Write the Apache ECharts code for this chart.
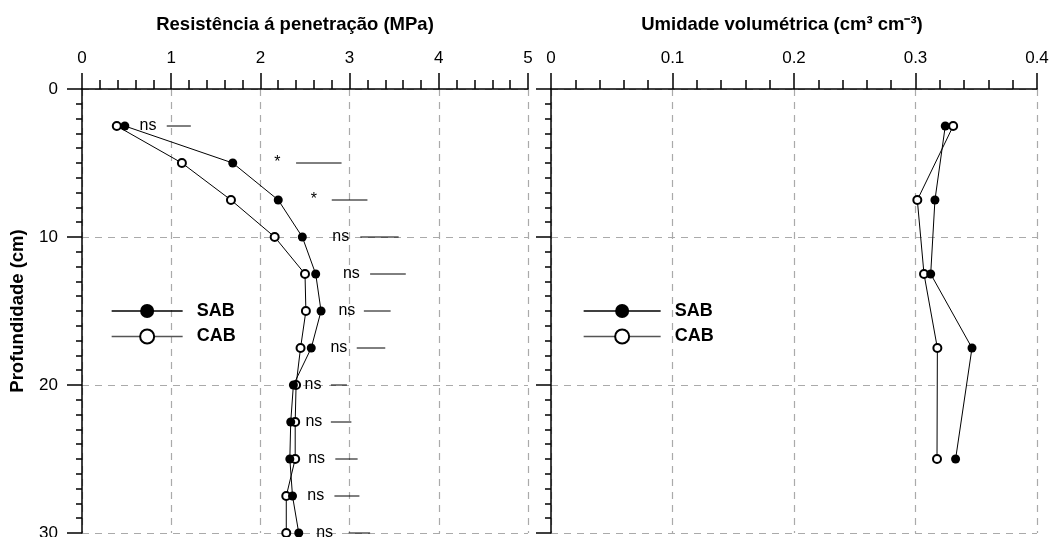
<!DOCTYPE html>
<html>
<head>
<meta charset="utf-8">
<script src="https://cdn.jsdelivr.net/npm/echarts@6/dist/echarts.min.js"></script>
<style>
html,body{margin:0;padding:0;background:#fff;}
#c{width:1057px;height:537px;}
</style>
</head>
<body>
<div id="c"></div>
<script>
// ---- data ----
const depths = [2.5, 5, 7.5, 10, 12.5, 15, 17.5, 20, 22.5, 25, 27.5, 30];
const resistSAB = [0.48, 1.69, 2.20, 2.47, 2.62, 2.68, 2.57, 2.37, 2.34, 2.33, 2.36, 2.43];
const resistCAB = [0.39, 1.12, 1.67, 2.16, 2.50, 2.51, 2.45, 2.40, 2.39, 2.39, 2.29, 2.29];
const sigLabels = ['ns', '*', '*', 'ns', 'ns', 'ns', 'ns', 'ns', 'ns', 'ns', 'ns', 'ns'];
const sigLabelX = [0.74, 2.19, 2.60, 2.90, 3.02, 2.97, 2.88, 2.59, 2.60, 2.63, 2.62, 2.72];
const lsdStart = [0.95, 2.40, 2.80, 3.12, 3.23, 3.16, 3.08, 2.79, 2.79, 2.84, 2.83, 2.99];
const lsdEnd = [1.22, 2.91, 3.20, 3.55, 3.63, 3.46, 3.40, 2.97, 3.02, 3.09, 3.11, 3.23];

const moistDepths = [2.5, 7.5, 12.5, 17.5, 25];
const moistSAB = [0.3245, 0.316, 0.3125, 0.3465, 0.333];
const moistCAB = [0.331, 0.3015, 0.307, 0.318, 0.3177];

const seriesNames = ['SAB', 'CAB'];
const resistTicks = [0, 1, 2, 3, 4, 5];
const moistTicks = [0, 0.1, 0.2, 0.3, 0.4];
const depthTicks = [0, 10, 20, 30];
const titleLeft = 'Resistência á penetração (MPa)';
const titleRight = 'Umidade volumétrica (cm³ cm⁻³)';
const depthTitle = 'Profundidade (cm)';

// ---- chart ----
const FONT = 'Liberation Sans, Arial, Helvetica, sans-serif';
const chart = echarts.init(document.getElementById('c'), null, {renderer: 'canvas'});

function xAxisDef(gridIndex, ticks, name, shiftLeft) {
  const interval = ticks[1] - ticks[0];
  return {
    type: 'value', gridIndex: gridIndex, position: 'top',
    min: ticks[0], max: ticks[ticks.length - 1], interval: interval,
    name: name, nameLocation: 'middle', nameGap: 55,
    nameTextStyle: {fontFamily: FONT, fontSize: 18.5, fontWeight: 'bold', color: '#000',
      padding: [0, shiftLeft * 2, 0, 0]},
    axisLine: {show: true, onZero: false, lineStyle: {color: '#000', width: 1.5}},
    axisTick: {show: true, inside: false, length: 16, lineStyle: {color: '#000', width: 1.5}},
    minorTick: {show: true, splitNumber: 5, length: 9, lineStyle: {color: '#000', width: 1.5}},
    axisLabel: {show: true, margin: 22, fontFamily: FONT, fontSize: 17, color: '#000',
      formatter: function (v) { return String(+v.toFixed(2)); }},
    splitLine: {show: true, lineStyle: {color: '#aaa', type: [7, 6], width: 1.2}},
    minorSplitLine: {show: false}
  };
}
function yAxisDef(gridIndex, showLabels) {
  return {
    type: 'value', gridIndex: gridIndex, inverse: true,
    min: depthTicks[0], max: depthTicks[depthTicks.length - 1], interval: depthTicks[1] - depthTicks[0],
    name: showLabels ? depthTitle : '', nameLocation: 'middle', nameGap: 55,
    nameTextStyle: {fontFamily: FONT, fontSize: 18.5, fontWeight: 'bold', color: '#000'},
    axisLine: {show: true, onZero: false, lineStyle: {color: '#000', width: 1.5}},
    axisTick: {show: true, inside: false, length: 15, lineStyle: {color: '#000', width: 1.5}},
    minorTick: {show: true, splitNumber: 10, length: 6, lineStyle: {color: '#000', width: 1.5}},
    axisLabel: {show: showLabels, margin: 24, fontFamily: FONT, fontSize: 17, color: '#000'},
    splitLine: {show: true, lineStyle: {color: '#aaa', type: [7, 6], width: 1.2}}
  };
}
function lineSeries(name, xi, xs, ys, filled) {
  return {
    type: 'line', name: name, xAxisIndex: xi, yAxisIndex: xi,
    data: xs.map(function (v, i) { return [v, ys[i]]; }),
    symbol: filled ? 'circle' : 'emptyCircle',
    symbolSize: filled ? 9 : 8,
    clip: false, animation: false,
    lineStyle: {color: '#000', width: 1},
    itemStyle: {color: '#000', borderColor: '#000', borderWidth: filled ? 0 : 1.5},
    z: filled ? 4 : 3
  };
}
function legendDef(left, width) {
  return {
    orient: 'vertical', left: left, top: 302, padding: 0,
    itemWidth: width, itemHeight: 17.5, itemGap: 7.5,
    textStyle: {fontFamily: FONT, fontSize: 18, fontWeight: 'bold', color: '#000', padding: [0, 0, 0, 9]},
    data: [
      {name: seriesNames[0], lineStyle: {color: '#000', width: 1.3}},
      {name: seriesNames[1], lineStyle: {color: '#555', width: 1.3}}
    ],
    selectedMode: false
  };
}

const option = {
  backgroundColor: '#fff',
  animation: false,
  grid: [
    {left: 82, top: 89, width: 446, height: 444, outerBoundsMode: 'none', containLabel: false},
    {left: 551, top: 89, width: 486, height: 444, outerBoundsMode: 'none', containLabel: false}
  ],
  xAxis: [xAxisDef(0, resistTicks, titleLeft, 10), xAxisDef(1, moistTicks, titleRight, 12)],
  yAxis: [yAxisDef(0, true), yAxisDef(1, false)],
  legend: [legendDef(111, 71), legendDef(583, 77)],
  series: [
    lineSeries(seriesNames[0], 0, resistSAB, depths, true),
    lineSeries(seriesNames[1], 0, resistCAB, depths, false),
    lineSeries(seriesNames[0], 1, moistSAB, moistDepths, true),
    lineSeries(seriesNames[1], 1, moistCAB, moistDepths, false),
    {
      type: 'custom', xAxisIndex: 0, yAxisIndex: 0, clip: false, silent: true,
      encode: {x: 0, y: 1},
      data: depths.map(function (d, i) { return [sigLabelX[i], d, lsdStart[i], lsdEnd[i], i]; }),
      renderItem: function (params, api) {
        const d = api.value(1);
        const i = api.value(4);
        const p = api.coord([api.value(0), d]);
        const a = api.coord([api.value(2), d]);
        const b = api.coord([api.value(3), d]);
        return {
          type: 'group',
          children: [
            {type: 'text', style: {x: p[0], y: p[1], text: sigLabels[i], fill: '#000',
              font: '16px ' + FONT, align: 'center', verticalAlign: 'middle'}},
            {type: 'line', shape: {x1: a[0], y1: a[1], x2: b[0], y2: b[1]},
              style: {stroke: '#000', lineWidth: 1}}
          ]
        };
      },
      z: 5
    }
  ]
};
chart.setOption(option);
</script>
</body>
</html>
